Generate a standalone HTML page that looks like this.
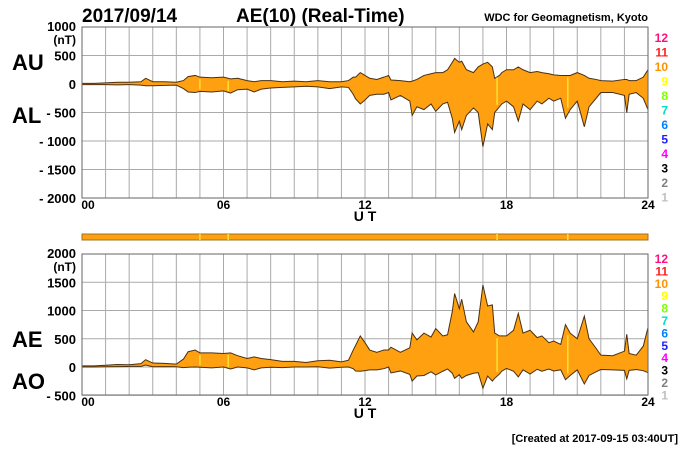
<!DOCTYPE html>
<html><head><meta charset="utf-8"><style>
body{margin:0;background:#fff;width:700px;height:450px;overflow:hidden}
svg{display:block;font-family:"Liberation Sans",sans-serif}
</style></head><body>
<svg id="c" width="700" height="450"></svg>
<script>
const times=[0,0.5,1,1.5,2,2.5,2.7,3,3.5,4,4.3,4.5,4.8,5,5.5,6,6.3,6.6,7,7.3,7.6,8,8.5,9,9.5,10,10.5,11,11.3,11.5,11.6,11.8,12,12.2,12.5,12.8,13,13.1,13.5,13.9,14,14.2,14.5,14.8,15,15.3,15.5,15.7,15.8,16,16.1,16.3,16.6,16.8,17,17.2,17.4,17.5,17.7,17.8,18,18.3,18.5,18.7,19,19.3,19.5,19.8,20,20.3,20.5,20.7,21,21.3,21.5,21.8,22,22.5,23,23.1,23.2,23.5,23.8,24];
const au=[10,10,20,30,30,40,100,40,40,30,60,130,150,120,110,120,90,100,60,40,60,60,40,50,40,60,40,40,60,120,120,200,150,100,80,120,150,70,60,40,50,80,150,180,200,200,250,380,450,380,400,250,200,300,350,380,300,100,150,200,250,250,300,250,200,220,200,180,160,150,150,150,200,150,100,80,60,50,80,80,60,60,120,250];
const al=[-10,-10,-10,-15,-10,-20,-30,-30,-25,-20,-80,-140,-150,-130,-140,-120,-160,-100,-90,-140,-90,-70,-60,-50,-40,-50,-80,-50,-60,-180,-260,-350,-280,-200,-180,-180,-150,-280,-200,-300,-550,-400,-450,-350,-480,-350,-320,-600,-850,-650,-800,-550,-420,-500,-1100,-700,-800,-500,-400,-350,-300,-400,-650,-350,-450,-300,-350,-250,-300,-250,-600,-450,-300,-750,-400,-250,-150,-150,-200,-500,-180,-150,-250,-450];
const topTicks=[1000,500,0,-500,-1000,-1500,-2000];
const botTicks=[2000,1500,1000,500,0,-500];
const hourLabels=["00","06","12","18","24"];
const legendNums=["12","11","10","9","8","7","6","5","4","3","2","1"];
const legendColors=["#ff1080","#ff2020","#ff9000","#ffff00","#80ff00","#00e0c0","#0080ff","#2020ff","#ff00ff","#000000","#808080","#c0c0c0"];
const yellowMarks=[5.0,6.2,17.6,20.6];

const svg=document.getElementById('c');
const NS='http://www.w3.org/2000/svg';
const X0=82,X1=648;
const x=h=>X0+(X1-X0)*h/24;
const yTop=v=>84-v*0.057;
const yBot=v=>367-v*0.0565;
function el(tag,attrs,parent){const e=document.createElementNS(NS,tag);for(const k in attrs)e.setAttribute(k,attrs[k]);(parent||svg).appendChild(e);return e;}
function txt(s,xx,yy,size,anchor,color,weight){const t=el('text',{x:xx,y:yy,'font-size':size,'text-anchor':anchor||'start',fill:color||'#000','font-weight':weight||'bold'});t.textContent=s;return t;}

function panel(yf,ticks,top,bottom,upper,lower,name,legStart,legStep){
  const g=el('g',{});
  
  
  for(let h=0;h<=24;h++){el('line',{x1:x(h),x2:x(h),y1:top,y2:bottom,stroke:'#aaa','stroke-width':1},g);}
  ticks.forEach(v=>{el('line',{x1:X0,x2:X1,y1:yf(v),y2:yf(v),stroke:'#aaa','stroke-width':1},g);});
  let d='M'+times.map((t,i)=>x(t)+','+yf(upper[i])).join(' L');
  for(let i=times.length-1;i>=0;i--)d+=' L'+x(times[i])+','+yf(lower[i]);
  const a=el('path',{d:d+'Z',fill:'#ffa010',stroke:'#4a3010','stroke-width':1},g);
  
  
  yellowMarks.forEach(h=>{
    const i=times.findIndex(t=>t>=h);
    el('line',{x1:x(h),x2:x(h),y1:yf(upper[i])+2,y2:yf(lower[i])-2,stroke:'#ffe030','stroke-width':1.5},g);
  });
  el('rect',{x:X0,y:top,width:X1-X0,height:bottom-top,fill:'none',stroke:'#666','stroke-width':1},g);
  ticks.forEach((v,i)=>{
    const s=v<0?'- '+(-v):String(v);
    const t=txt(s,76,i==0?yf(v)+4:yf(v)+5,13,'end');
    
    
  });
  txt('(nT)',76,top+17,12,'end');
  hourLabels.forEach((s,i)=>{const t=txt(s,x(i*6)+(i==0?6:0),bottom+11,12,'middle');
    
    });
  const u=txt('U T',365,bottom+23,14,'middle');
  
  
  legendNums.forEach((n,i)=>{const t=txt(n,668,legStart+i*legStep,12,'end',legendColors[i]);
    
    });
}
const ae=au.map((v,i)=>v-al[i]);
const ao=au.map((v,i)=>(v+al[i])/2);
panel(yTop,topTicks,27,198,au,al,'au-al-panel',42,14.5);
panel(yBot,botTicks,254,395,ae,ao,'ae-ao-panel',263,12.4);

const bar=el('rect',{x:X0,y:234,width:X1-X0,height:6,fill:'#ffa010',stroke:'#a07020','stroke-width':1});


yellowMarks.forEach(h=>el('line',{x1:x(h),x2:x(h),y1:234,y2:240,stroke:'#ffe030','stroke-width':1.5}));

let t;
t=txt('2017/09/14',82,22,19);
t=txt('AE(10) (Real-Time)',236,22,19);
t=txt('WDC for Geomagnetism, Kyoto',648,21,11,'end');
t=txt('AU',12,70,22);
t=txt('AL',12,123,22);
t=txt('AE',12,347,22);
t=txt('AO',12,389,22);
t=txt('[Created at 2017-09-15 03:40UT]',678,442,11,'end');
</script>
</body></html>
